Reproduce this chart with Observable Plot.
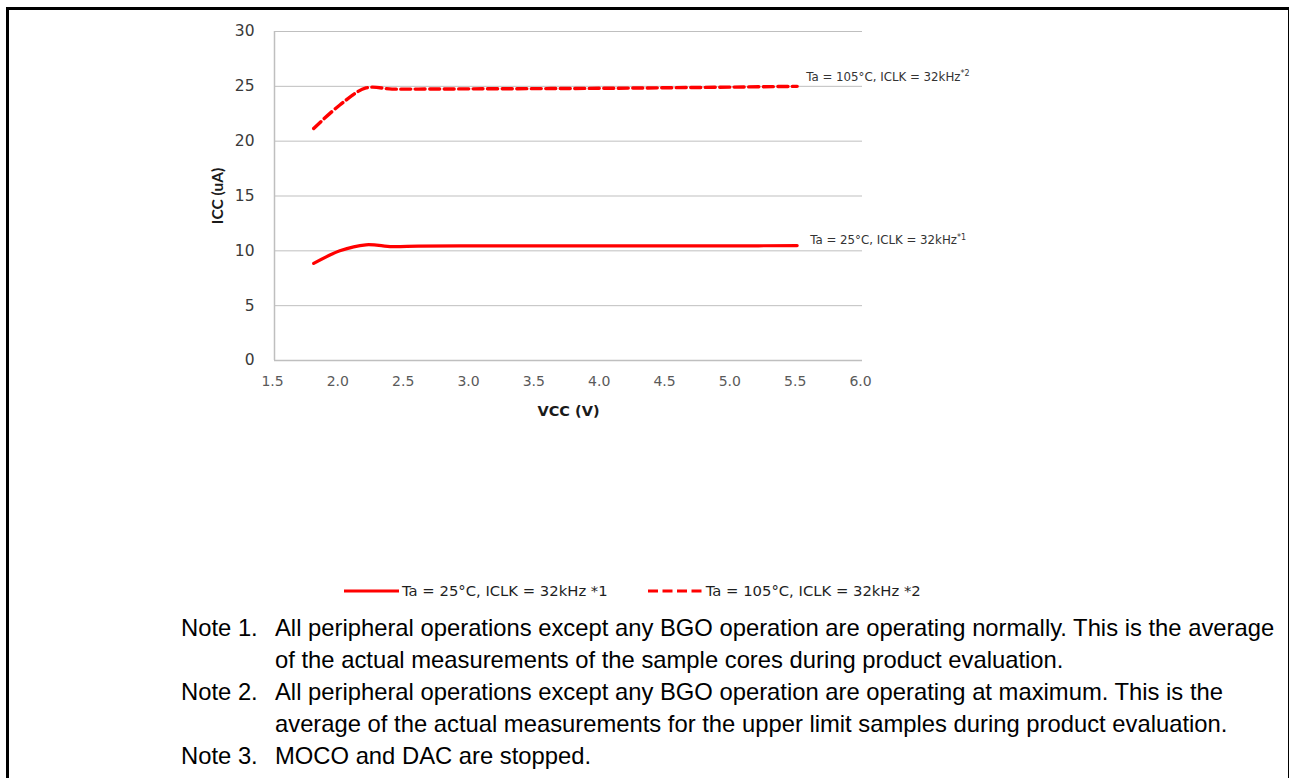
<!DOCTYPE html>
<html>
<head>
<meta charset="utf-8">
<script src="https://cdn.jsdelivr.net/npm/d3@7"></script>
<script src="https://cdn.jsdelivr.net/npm/@observablehq/plot@0.6"></script>
<style>
  html, body { margin: 0; padding: 0; background: #fff; }
  #page { position: relative; width: 1290px; height: 778px; overflow: hidden; background: #fff; }
  #frame { position: absolute; left: 6px; top: 7px; width: 1279px; height: 800px;
           border-top: 3px solid #000; border-left: 3px solid #000; border-right: 1px solid #000; }
  #chart { position: absolute; left: 0; top: 0; }
  #legend { position: absolute; top: 582px; left: 344px; display: flex; align-items: center;
            font-family: "DejaVu Sans", sans-serif; font-size: 14.8px; color: #1f1f1f; white-space: nowrap; }
  #legend .item { display: flex; align-items: center; margin-right: 40px; }
  #legend svg { margin-right: 3px; }
  #notes { position: absolute; top: 612px; left: 181px; font-family: "Liberation Sans", Arial, sans-serif;
           font-size: 23.8px; line-height: 32px; color: #000; }
  #notes .row { display: flex; }
  #notes .lab { width: 94px; flex: none; white-space: nowrap; }
  #notes .txt { white-space: nowrap; }
</style>
</head>
<body>
<div id="page">
  <div id="frame"></div>
  <div id="chart"></div>
  <div id="legend"></div>
  <div id="notes"></div>
</div>
<script>
// Data
const vcc25  = [1.8, 2.0, 2.2, 2.4, 2.6, 3.0, 3.5, 4.0, 4.5, 5.0, 5.5];
const icc25  = [8.85, 10.0, 10.55, 10.38, 10.43, 10.45, 10.45, 10.45, 10.45, 10.45, 10.48];
const vcc105 = [1.8, 2.0, 2.2, 2.4, 2.6, 3.0, 3.5, 4.0, 4.5, 5.0, 5.5];
const icc105 = [21.15, 23.3, 24.85, 24.75, 24.75, 24.77, 24.79, 24.82, 24.87, 24.93, 25.0];

const xTicks = [1.5, 2.0, 2.5, 3.0, 3.5, 4.0, 4.5, 5.0, 5.5, 6.0];
const yTicks = [0, 5, 10, 15, 20, 25, 30];
const gridY  = [5, 10, 15, 20, 25, 30];

const label25  = "Ta = 25°C, ICLK = 32kHz";
const label105 = "Ta = 105°C, ICLK = 32kHz";
const sup25 = "*1", sup105 = "*2";
const legend25  = "Ta = 25°C, ICLK = 32kHz *1";
const legend105 = "Ta = 105°C, ICLK = 32kHz *2";
const xTitle = "VCC (V)";
const yTitle = "ICC (uA)";

const notes = [
  ["Note 1.", "All peripheral operations except any BGO operation are operating normally. This is the average"],
  ["", "of the actual measurements of the sample cores during product evaluation."],
  ["Note 2.", "All peripheral operations except any BGO operation are operating at maximum. This is the"],
  ["", "average of the actual measurements for the upper limit samples during product evaluation."],
  ["Note 3.", "MOCO and DAC are stopped."]
];

const s25  = vcc25.map((v, i) => ({vcc: v, icc: icc25[i]}));
const s105 = vcc105.map((v, i) => ({vcc: v, icc: icc105[i]}));
const last25 = [s25[s25.length - 1]];
const last105 = [s105[s105.length - 1]];

const red = "#ff0000";
const grid = "#bfbfbf";
const dash = "10,4.5";

const chart = Plot.plot({
  width: 1290,
  height: 440,
  marginLeft: 274,
  marginRight: 428,
  marginTop: 31,
  marginBottom: 80,
  style: {fontFamily: "DejaVu Sans, sans-serif", background: "transparent"},
  x: {domain: [1.5, 6.0]},
  y: {domain: [0, 30]},
  marks: [
    Plot.ruleY(gridY, {stroke: grid, strokeWidth: 1}),
    Plot.ruleY([0], {stroke: grid, strokeWidth: 1.5}),
    Plot.ruleX([1.5], {stroke: grid, strokeWidth: 1.5}),
    Plot.axisX({ticks: xTicks, tickFormat: d3.format(".1f"), tickSize: 0, tickPadding: 16, fontSize: 14, fill: "#5a5a5a", dx: -2, label: null}),
    Plot.axisY({ticks: yTicks, tickSize: 0, tickPadding: 20, fontSize: 15.5, fill: "#3a3a3a", label: null}),
    Plot.line(s25, {x: "vcc", y: "icc", stroke: red, strokeWidth: 3.2, curve: "catmull-rom"}),
    Plot.line(s105, {x: "vcc", y: "icc", stroke: red, strokeWidth: 3.4, strokeDasharray: dash, curve: "catmull-rom"}),
    Plot.text(last105, {x: "vcc", y: "icc", text: () => label105, textAnchor: "start", dx: 9, dy: -9, fontSize: 11.8, fill: "#333"}),
    Plot.text(last25, {x: "vcc", y: "icc", text: () => label25, textAnchor: "start", dx: 13, dy: -5, fontSize: 11.8, fill: "#333"}),
    Plot.text([xTitle], {frameAnchor: "bottom", textAnchor: "middle", dy: 55, fontSize: 14.5, fontWeight: "bold", fill: "#1a1a1a"}),
    Plot.text([yTitle], {frameAnchor: "left", textAnchor: "middle", dx: -56, rotate: -90, fontSize: 15.5, fontWeight: "bold", fill: "#1a1a1a", fontFamily: "Lato, sans-serif"})
  ]
});
document.getElementById("chart").appendChild(chart);

// superscripts on the end labels
d3.select(chart).selectAll("text").each(function() {
  const t = this.textContent;
  if (t === label105 || t === label25) {
    d3.select(this).append("tspan")
      .attr("font-size", 8).attr("dy", "-0.6em")
      .text(t === label105 ? sup105 : sup25);
  }
});

// legend
const leg = d3.select("#legend");
[[legend25, null], [legend105, dash]].forEach(([txt, da]) => {
  const it = leg.append("div").attr("class", "item");
  const sv = it.append("svg").attr("width", 55).attr("height", 6);
  const ln = sv.append("line").attr("x1", 0).attr("x2", 55).attr("y1", 3).attr("y2", 3)
    .attr("stroke", red).attr("stroke-width", 3);
  if (da) ln.attr("stroke-dasharray", da);
  it.append("span").text(txt);
});

// notes
const nt = d3.select("#notes");
notes.forEach(([a, b]) => {
  const r = nt.append("div").attr("class", "row");
  r.append("div").attr("class", "lab").text(a);
  r.append("div").attr("class", "txt").text(b);
});
</script>
</body>
</html>
